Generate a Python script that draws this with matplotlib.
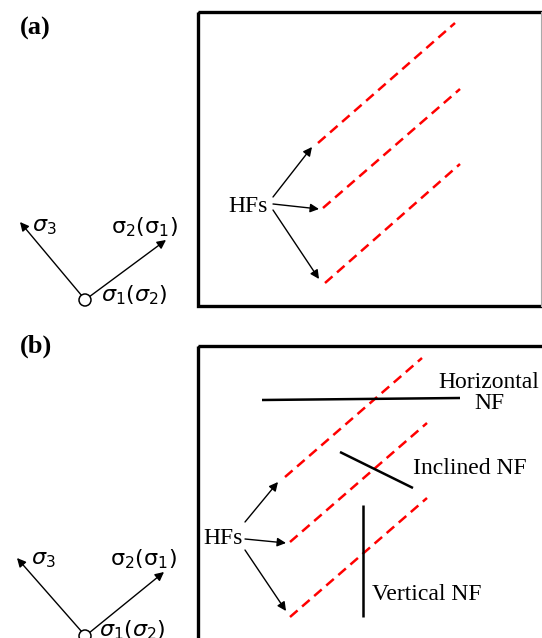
import matplotlib
matplotlib.use("Agg")
import matplotlib.pyplot as plt
from matplotlib.patches import Rectangle, Circle

W, H = 542, 638

# ---- diagram geometry (pixel coordinates of the schematic) ----
panel_labels = ["(a)", "(b)"]
panel_label_xy = [(35, 28), (36, 346)]
boxes = [(198, 12, 350, 294), (198, 346, 350, 300)]  # x, y, w, h

# hydraulic fractures (red dashed), panel a and b
hf_a = [((318, 143), (455, 23)), ((323, 208), (460, 89)), ((325, 283), (460, 164))]
hf_b = [((285, 477), (422, 358)), ((290, 542), (427, 423)), ((290, 617), (427, 498))]

# HFs label and arrows
hf_text_xy = [(248, 206), (223, 538)]
hf_arrows_a = [((273, 197), (312, 147)), ((273, 204), (319, 209)), ((273, 210), (319, 279))]
hf_arrows_b = [((245, 522), (278, 482)), ((245, 539), (286, 543)), ((245, 550), (286, 611))]

# natural fractures (panel b)
nf_lines = [((262, 400), (460, 398)), ((340, 452), (413, 488)), ((363, 505), (363, 617))]
nf_texts = ["Horizontal\nNF", "Inclined NF", "Vertical NF"]
nf_text_xy = [(489, 393), (413, 468), (372, 595)]
nf_text_ha = ["center", "left", "left"]

# stress orientation sketches
stress_origin = [(85, 300), (85, 636)]
s3_tip = [(20, 222), (17, 558)]
s2_tip = [(166, 240), (164, 572)]
s3_label_xy = [(44, 227), (43, 560)]
s2_label_xy = [(145, 227), (144, 559)]
s1_label_xy = [(101, 295), (99, 630)]

fig = plt.figure(figsize=(W / 100, H / 100), dpi=100)
ax = fig.add_axes([0, 0, 1, 1])
ax.set_xlim(0, W)
ax.set_ylim(H, 0)
ax.axis("off")

serif = "Liberation Serif"

for (x, y, w, h) in boxes:
    ax.add_patch(Rectangle((x, y), w, h, fill=False, ec="black", lw=2.4, zorder=2))
ax.plot([541, 541], [12, 306], color="#aaaaaa", lw=0.8)

for lab, (x, y) in zip(panel_labels, panel_label_xy):
    ax.text(x, y, lab, fontsize=19, fontweight="bold", family=serif, ha="center", va="center")

for segs in (hf_a, hf_b):
    for (p0, p1) in segs:
        ax.plot([p0[0], p1[0]], [p0[1], p1[1]], color="red", lw=1.8, dashes=(4.0, 2.4))

for (x, y) in hf_text_xy:
    ax.text(x, y, "HFs", fontsize=17, family=serif, ha="center", va="center")

arrow_kw = dict(arrowstyle="-|>", color="black", lw=1.0, mutation_scale=13,
                shrinkA=0, shrinkB=0)
for arrows in (hf_arrows_a, hf_arrows_b):
    for (p0, p1) in arrows:
        ax.annotate("", xy=p1, xytext=p0, arrowprops=arrow_kw)

for (p0, p1) in nf_lines:
    ax.plot([p0[0], p1[0]], [p0[1], p1[1]], color="black", lw=1.8, solid_capstyle="butt")
for t, (x, y), ha in zip(nf_texts, nf_text_xy, nf_text_ha):
    ax.text(x, y, t, fontsize=17, family=serif, ha=ha, va="center", linespacing=0.95)

for i in range(2):
    ox, oy = stress_origin[i]
    ax.annotate("", xy=s3_tip[i], xytext=(ox - 3, oy - 4), arrowprops=arrow_kw)
    ax.annotate("", xy=s2_tip[i], xytext=(ox + 4, oy - 3), arrowprops=arrow_kw)
    ax.add_patch(Circle((ox, oy), 6, fc="white", ec="black", lw=1.1, zorder=5))
    ax.text(*s3_label_xy[i], r"$\sigma_3$", fontsize=16, ha="center", va="center")
    ax.text(*s2_label_xy[i], r"$\mathrm{\sigma}_2(\mathrm{\sigma}_1)$", fontsize=16,
            ha="center", va="center")
    ax.text(*s1_label_xy[i], r"$\sigma_1(\sigma_2)$", fontsize=16, ha="left", va="center")

fig.savefig("out.png", dpi=100)
